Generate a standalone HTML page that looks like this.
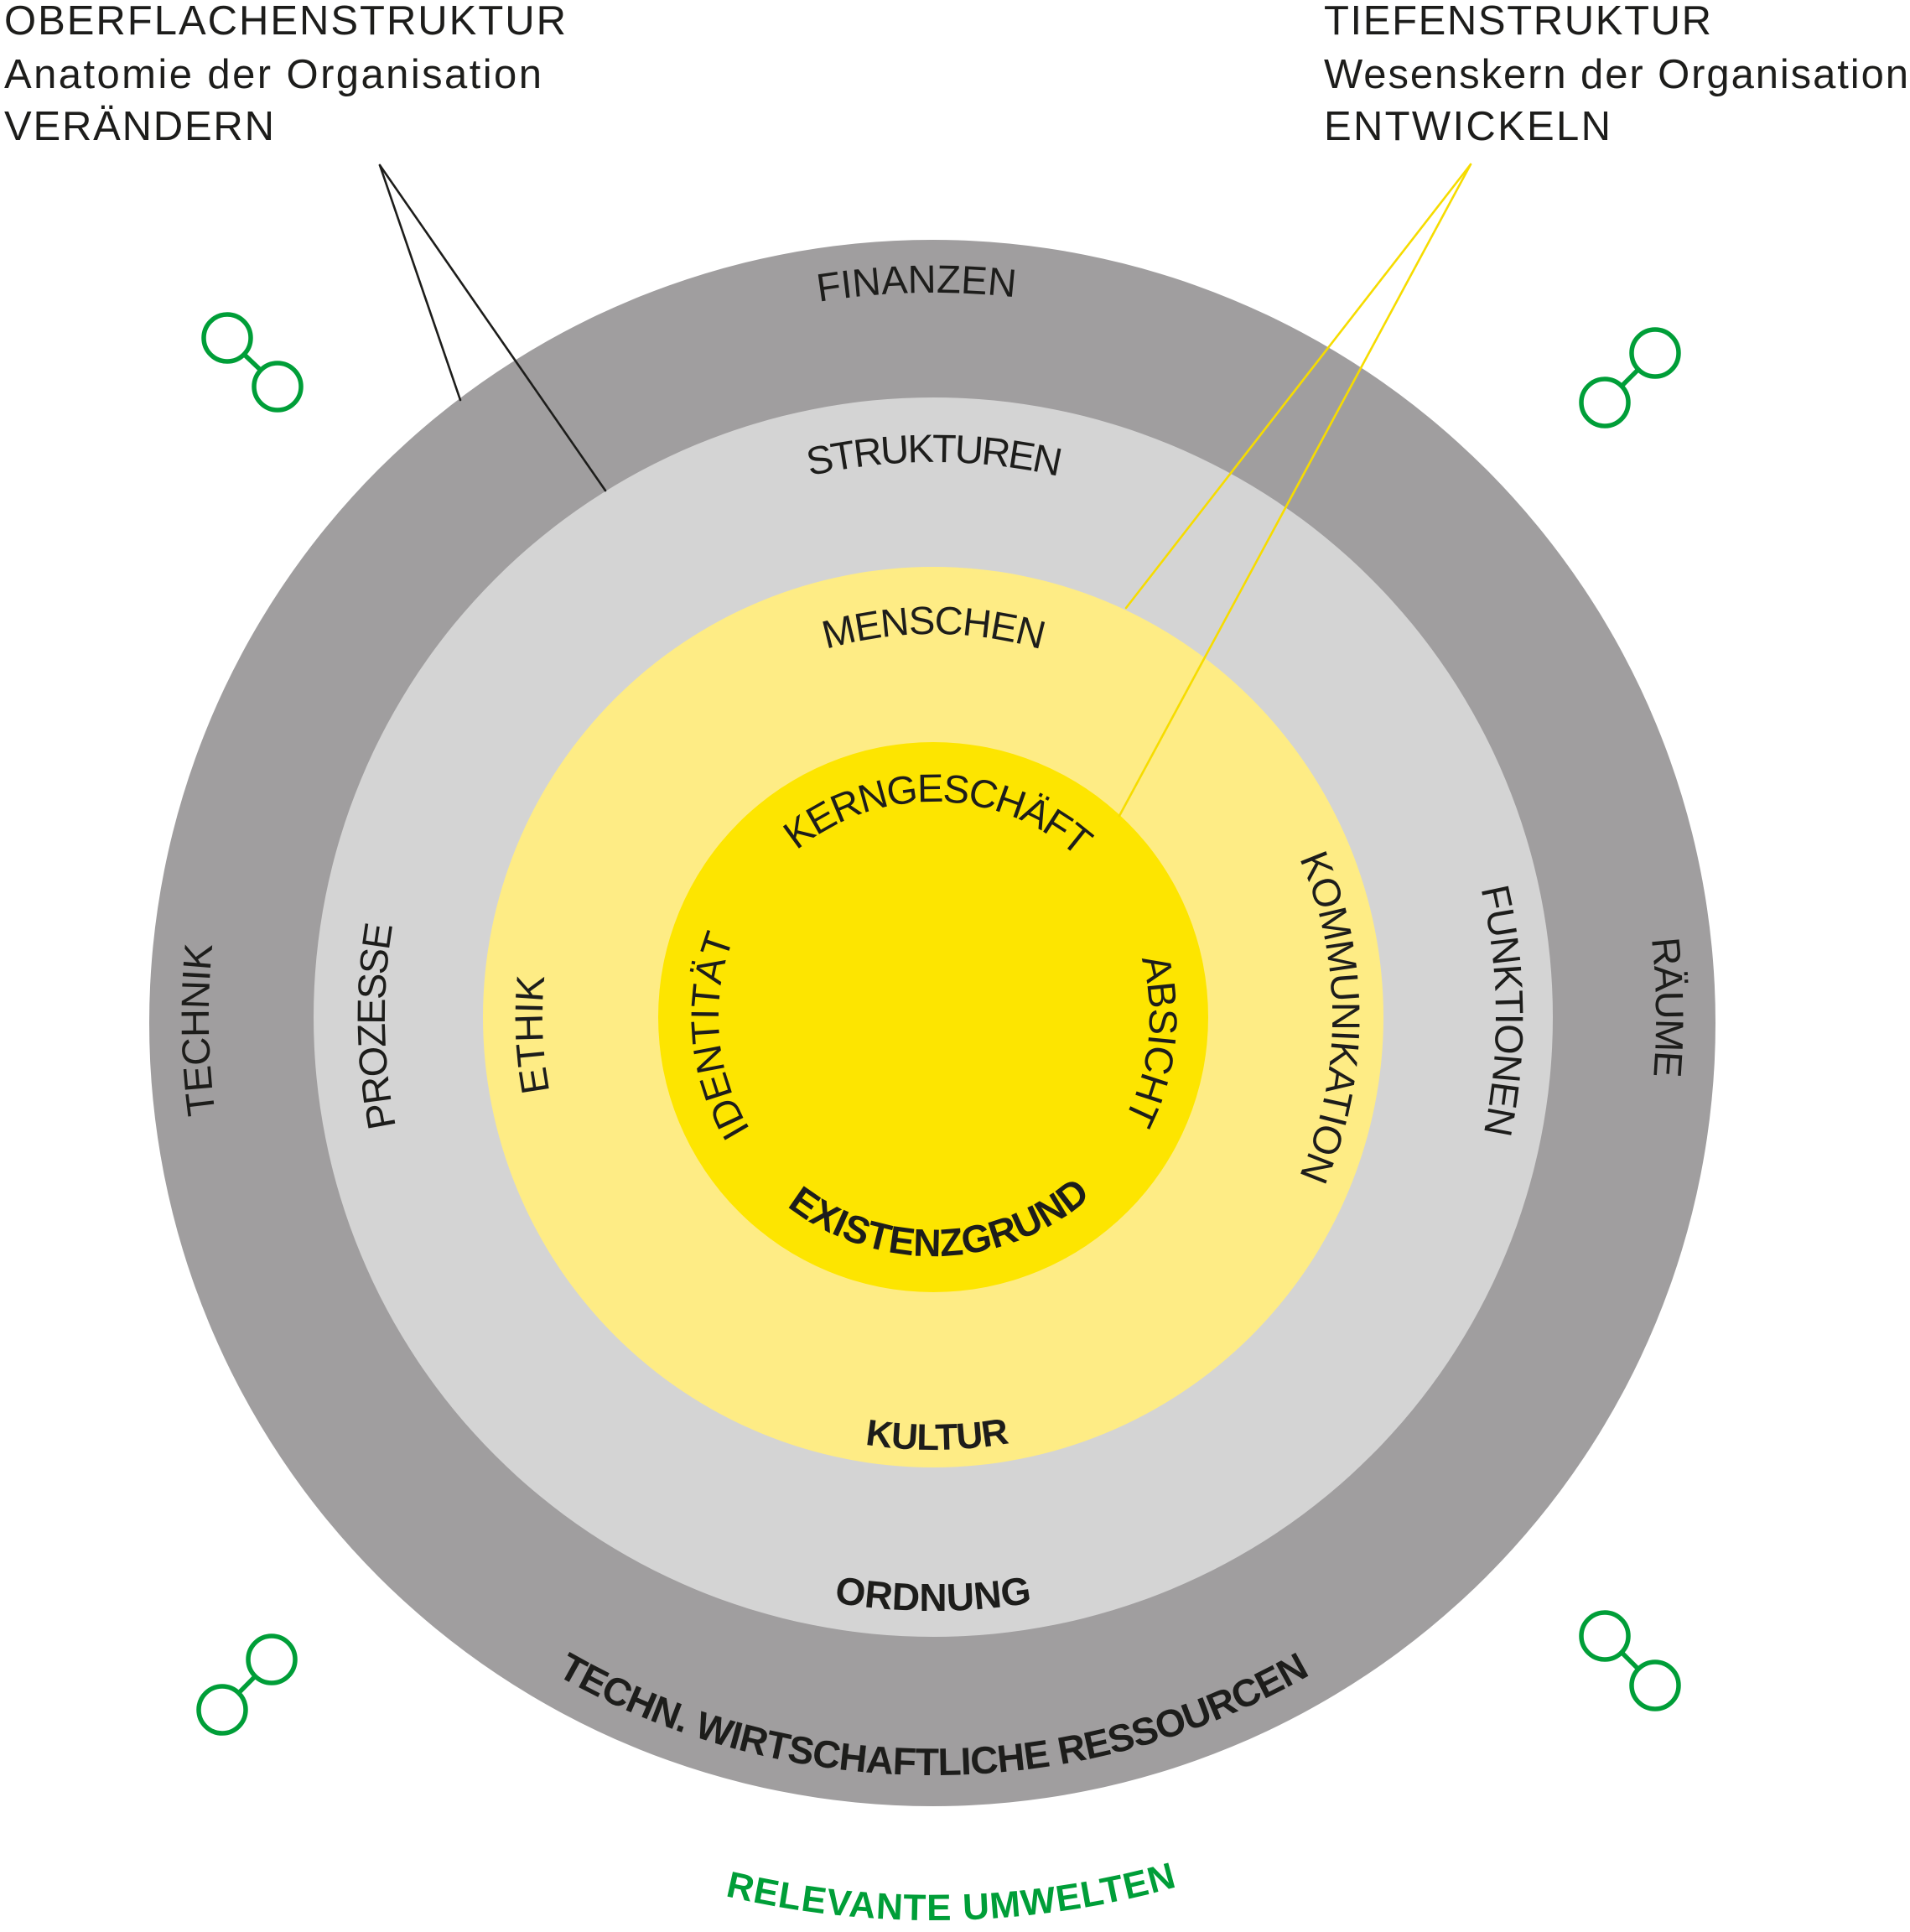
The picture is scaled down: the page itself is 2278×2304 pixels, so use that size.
<!DOCTYPE html>
<html>
<head>
<meta charset="utf-8">
<style>
html,body{margin:0;padding:0;background:#ffffff;}
svg{display:block;}
</style>
</head>
<body>
<svg width="2278" height="2304" viewBox="0 0 2278 2304" xmlns="http://www.w3.org/2000/svg" font-family="'Liberation Sans', Arial, sans-serif">
<defs>
<path id="cw864" d="M249 1213 A864 864 0 0 1 1977 1213 A864 864 0 0 1 249 1213"/>
<path id="cw862" d="M251 1213 A862 862 0 0 1 1975 1213 A862 862 0 0 1 251 1213"/>
<path id="cw662" d="M451 1213 A662 662 0 0 1 1775 1213 A662 662 0 0 1 451 1213"/>
<path id="cw654" d="M459 1213 A654 654 0 0 1 1767 1213 A654 654 0 0 1 459 1213"/>
<path id="cw671" d="M442 1213 A671 671 0 0 1 1784 1213 A671 671 0 0 1 442 1213"/>
<path id="cw457" d="M656 1213 A457 457 0 0 1 1570 1213 A457 457 0 0 1 656 1213"/>
<path id="cw466" d="M647 1213 A466 466 0 0 1 1579 1213 A466 466 0 0 1 647 1213"/>
<path id="cw476" d="M637 1213 A476 476 0 0 1 1589 1213 A476 476 0 0 1 637 1213"/>
<path id="cw257" d="M856 1213 A257 257 0 0 1 1370 1213 A257 257 0 0 1 856 1213"/>
<path id="cw256" d="M857 1213 A256 256 0 0 1 1369 1213 A256 256 0 0 1 857 1213"/>
<path id="cw258" d="M855 1213 A258 258 0 0 1 1371 1213 A258 258 0 0 1 855 1213"/>
<path id="ccw285" d="M828 1213 A285 285 0 0 0 1398 1213 A285 285 0 0 0 828 1213"/>
<path id="ccw516" d="M597 1213 A516 516 0 0 0 1629 1213 A516 516 0 0 0 597 1213"/>
<path id="ccw708" d="M405 1213 A708 708 0 0 0 1821 1213 A708 708 0 0 0 405 1213"/>
<path id="ccw904" d="M209 1213 A904 904 0 0 0 2017 1213 A904 904 0 0 0 209 1213"/>
<path id="ccw1077" d="M36 1213 A1077 1077 0 0 0 2190 1213 A1077 1077 0 0 0 36 1213"/>
</defs>

<!-- rings -->
<circle cx="1112" cy="1220" r="934" fill="#a09e9f"/>
<circle cx="1113" cy="1213" r="739" fill="#d4d4d4"/>
<circle cx="1113" cy="1213" r="537" fill="#feec85"/>
<circle cx="1113" cy="1213" r="328" fill="#fde500"/>

<!-- connector lines -->
<g stroke="#1d1d1b" stroke-width="2.6" fill="none" stroke-linecap="round">
<line x1="453" y1="197" x2="549" y2="477"/>
<line x1="453" y1="197" x2="722" y2="585"/>
</g>
<g stroke="#f6dc00" stroke-width="2.6" fill="none" stroke-linecap="round">
<line x1="1754" y1="196" x2="1343" y2="725"/>
<line x1="1754" y1="196" x2="1335" y2="973"/>
</g>

<!-- header texts -->
<g fill="#1d1d1b" font-size="49">
<text x="5" y="41" textLength="670" lengthAdjust="spacing">OBERFLACHENSTRUKTUR</text>
<text x="5" y="105" textLength="641" lengthAdjust="spacing">Anatomie der Organisation</text>
<text x="5" y="167" textLength="322" lengthAdjust="spacing">VERÄNDERN</text>
<text x="1579" y="41" textLength="462" lengthAdjust="spacing">TIEFENSTRUKTUR</text>
<text x="1579" y="105" textLength="697" lengthAdjust="spacing">Wesenskern der Organisation</text>
<text x="1579" y="167" textLength="342" lengthAdjust="spacing">ENTWICKELN</text>
</g>

<!-- ring labels (clockwise) -->
<g fill="#1d1d1b" font-size="47" text-anchor="middle">
<text transform="rotate(-91.3 1113 1213)" letter-spacing="0"><textPath href="#cw864" startOffset="50%">FINANZEN</textPath></text>
<text transform="rotate(-90 1113 1213)" letter-spacing="-2.4"><textPath href="#cw662" startOffset="50%">STRUKTUREN</textPath></text>
<text transform="rotate(-90 1113 1213)" letter-spacing="-1.3"><textPath href="#cw457" startOffset="50%">MENSCHEN</textPath></text>
<text transform="rotate(-88.8 1113 1213)" letter-spacing="-1.9"><textPath href="#cw257" startOffset="50%">KERNGESCHÄFT</textPath></text>
<text transform="rotate(179 1113 1213)" letter-spacing="-0.6"><textPath href="#cw864" startOffset="50%">TECHNIK</textPath></text>
<text transform="rotate(179 1113 1213)" letter-spacing="-2.0"><textPath href="#cw654" startOffset="50%">PROZESSE</textPath></text>
<text transform="rotate(177.5 1113 1213)" letter-spacing="-0.1"><textPath href="#cw466" startOffset="50%">ETHIK</textPath></text>
<text transform="rotate(175 1113 1213)" letter-spacing="-0.6"><textPath href="#cw256" startOffset="50%">IDENTITÄT</textPath></text>
<text transform="rotate(6 1113 1213)" letter-spacing="-1.1"><textPath href="#cw258" startOffset="50%">ABSICHT</textPath></text>
<text transform="rotate(0 1113 1213)" letter-spacing="-0.7"><textPath href="#cw476" startOffset="50%">KOMMUNIKATION</textPath></text>
<text transform="rotate(-0.7 1113 1213)" letter-spacing="-1.25"><textPath href="#cw671" startOffset="50%">FUNKTIONEN</textPath></text>
<text transform="rotate(-0.8 1113 1213)" letter-spacing="-1.2"><textPath href="#cw862" startOffset="50%">RÄUME</textPath></text>
</g>

<!-- ring labels (bottom, counter-clockwise) -->
<g fill="#1d1d1b" font-weight="bold" text-anchor="middle">
<text transform="rotate(88.2 1113 1213)" font-size="46" letter-spacing="0"><textPath href="#ccw285" startOffset="50%">EXISTENZGRUND</textPath></text>
<text transform="rotate(89.5 1113 1213)" font-size="44" letter-spacing="-0.8"><textPath href="#ccw516" startOffset="50%">KULTUR</textPath></text>
<text transform="rotate(90 1113 1213)" font-size="46" letter-spacing="0"><textPath href="#ccw708" startOffset="50%">ORDNUNG</textPath></text>
<text transform="rotate(90 1113 1213)" font-size="46" letter-spacing="-0.7"><textPath href="#ccw904" startOffset="50%">TECHN. WIRTSCHAFTLICHE RESSOURCEN</textPath></text>
<text transform="rotate(88.8 1113 1213)" font-size="44" letter-spacing="1.1" fill="#009e38"><textPath href="#ccw1077" startOffset="50%">RELEVANTE UMWELTEN</textPath></text>
</g>

<!-- green link icons -->
<g stroke="#009e38" stroke-width="5.5" fill="none">
<circle cx="271" cy="403" r="28"/>
<circle cx="331" cy="461" r="28"/>
<line x1="291" y1="422.5" x2="311" y2="441.5"/>

<circle cx="1974" cy="421" r="28"/>
<circle cx="1914" cy="480" r="28"/>
<line x1="1954" y1="440.6" x2="1934" y2="460.4"/>

<circle cx="324" cy="1979" r="28"/>
<circle cx="265" cy="2039" r="28"/>
<line x1="304.4" y1="1999" x2="284.6" y2="2019"/>

<circle cx="1914" cy="1951" r="28"/>
<circle cx="1974" cy="2010" r="28"/>
<line x1="1934" y1="1970.6" x2="1954" y2="1990.4"/>
</g>
</svg>
</body>
</html>
